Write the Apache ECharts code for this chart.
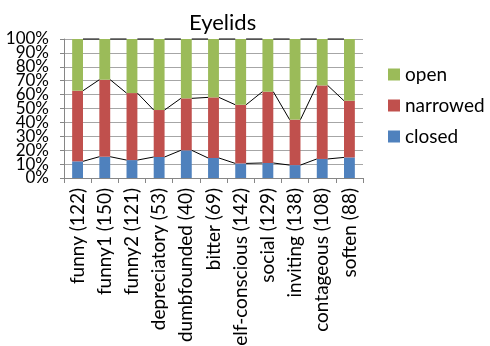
<!DOCTYPE html>
<html>
<head>
<meta charset="utf-8">
<script src="https://cdn.jsdelivr.net/npm/echarts@6/dist/echarts.min.js"></script>
<style>
  html, body { margin: 0; padding: 0; background: #fff; }
  #chart { width: 490px; height: 346px; }
</style>
</head>
<body>
<div id="chart"></div>
<script>
// Eyelid state shares (%) per condition, stacked to 100%
const categories = ['funny (122)', 'funny1 (150)', 'funny2 (121)', 'depreciatory (53)',
  'dumbfounded (40)', 'bitter (69)', 'self-conscious (142)', 'social (129)',
  'inviting (138)', 'contageous (108)', 'soften (88)'];
const closed   = [12.0, 15.3, 12.9, 15.1, 19.9, 14.4, 10.5, 10.8, 9.3, 13.7, 14.8];
const narrowed = [50.8, 55.4, 48.2, 33.8, 37.4, 43.6, 42.2, 51.3, 32.7, 52.9, 40.8];
const open     = [37.2, 29.3, 38.9, 51.1, 42.7, 42.0, 47.3, 37.9, 58.0, 33.4, 44.4];
const yTicks = [0, 10, 20, 30, 40, 50, 60, 70, 80, 90, 100];
const yTickLabels = yTicks.map(v => v + '%');

const FONT = 'Lato';
const BAR_FRAC = 0.4;
const colors = { closed: '#4F81BD', narrowed: '#C0504D', open: '#9BBB59' };

// Cumulative tops of each stack level, used for the series connector lines
const layers = [closed, narrowed, open];
const tops = layers.map((_, k) => categories.map((_, i) => {
  let s = 0;
  for (let j = 0; j <= k; j++) s += layers[j][i];
  return s;
}));
const connectorData = [];
tops.forEach(t => {
  for (let i = 0; i < categories.length - 1; i++) connectorData.push([i, t[i], t[i + 1]]);
});

const chart = echarts.init(document.getElementById('chart'), null, { renderer: 'canvas' });
chart.setOption({
  animation: false,
  textStyle: { fontFamily: FONT },
  title: {
    text: 'Eyelids', left: 184, top: 7,
    textStyle: { fontFamily: FONT, fontSize: 22, fontWeight: 'normal', color: '#000' }
  },
  legend: {
    orient: 'vertical', left: 383, top: 60,
    data: ['open', 'narrowed', 'closed'],
    icon: 'rect', itemWidth: 12, itemHeight: 12, itemGap: 12,
    textStyle: { fontFamily: FONT, fontSize: 19, color: '#000', padding: [0, 0, 0, 0] }
  },
  grid: { left: 64, right: 127, top: 39, bottom: 168, containLabel: false, outerBoundsMode: 'none' },
  xAxis: {
    type: 'category', data: categories,
    axisLine: { lineStyle: { color: '#868686' } },
    axisTick: { show: true, length: 5, lineStyle: { color: '#868686' } },
    axisLabel: { rotate: 90, interval: 0, margin: 10, color: '#000', fontFamily: FONT, fontSize: 19,
      lineHeight: 19, hideOverlap: false }
  },
  yAxis: [
    {
      // value scale for the stacked bars, gridlines and ticks
      type: 'value', min: yTicks[0], max: yTicks[yTicks.length - 1], interval: 10,
      axisLine: { show: true, lineStyle: { color: '#868686' } },
      axisTick: { show: true, length: 4, lineStyle: { color: '#868686' } },
      axisLabel: { show: false },
      splitLine: { lineStyle: { color: '#A6A6A6' } }
    },
    {
      // percentage labels placed on the same tick positions, every one shown
      type: 'category', data: yTickLabels, boundaryGap: false, position: 'left',
      axisLine: { show: false }, axisTick: { show: false }, splitLine: { show: false },
      axisLabel: { interval: 0, color: '#000', fontFamily: FONT, fontSize: 17, margin: 15 }
    }
  ],
  series: [
    { name: 'closed', type: 'bar', stack: 'eye', data: closed, barWidth: (BAR_FRAC * 100) + '%',
      itemStyle: { color: colors.closed } },
    { name: 'narrowed', type: 'bar', stack: 'eye', data: narrowed,
      itemStyle: { color: colors.narrowed } },
    { name: 'open', type: 'bar', stack: 'eye', data: open,
      itemStyle: { color: colors.open } },
    {
      type: 'custom', data: connectorData, encode: { x: 0, y: [1, 2] }, z: 5,
      silent: true,
      renderItem: function (params, api) {
        const i = api.value(0);
        const p1 = api.coord([i, api.value(1)]);
        const p2 = api.coord([i + 1, api.value(2)]);
        const half = api.size([1, 0])[0] * BAR_FRAC / 2;
        return {
          type: 'line',
          shape: { x1: p1[0] + half, y1: p1[1], x2: p2[0] - half, y2: p2[1] },
          style: { stroke: '#000', lineWidth: 1 }
        };
      }
    }
  ]
});
</script>
</body>
</html>
